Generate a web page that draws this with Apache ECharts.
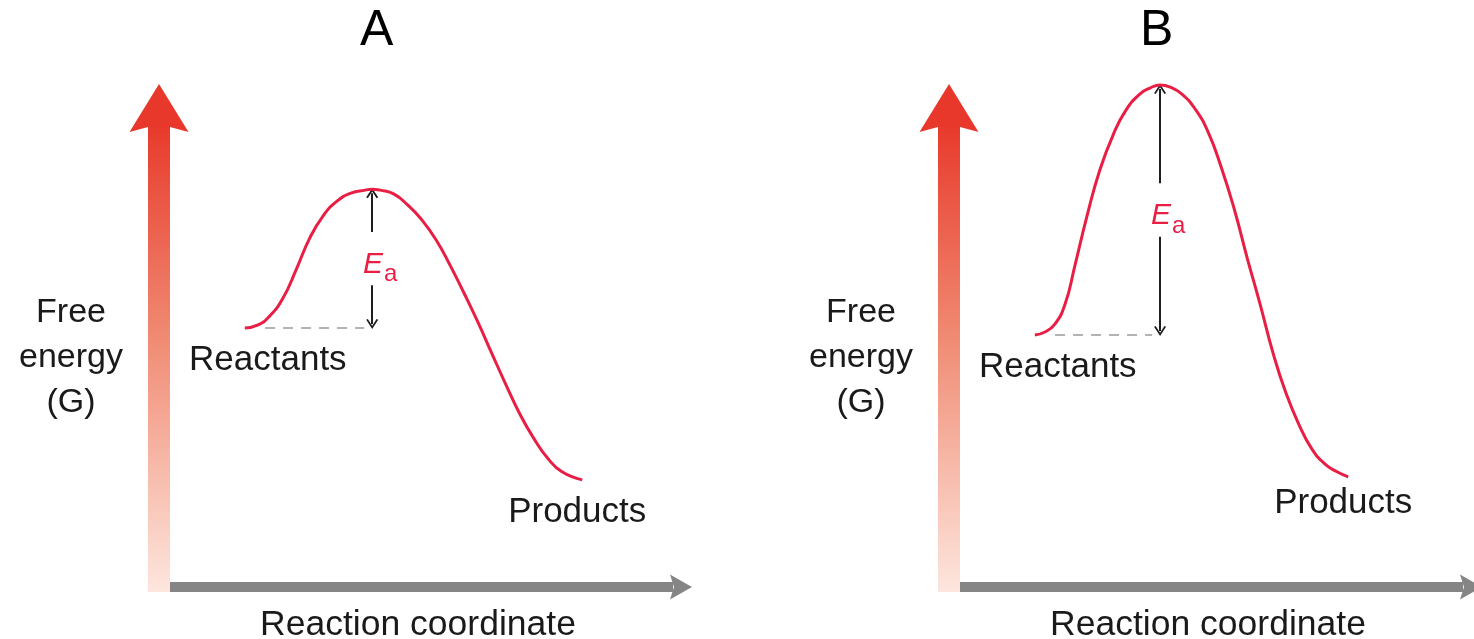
<!DOCTYPE html>
<html><head><meta charset="utf-8">
<script src="https://cdn.jsdelivr.net/npm/echarts@6/dist/echarts.min.js"></script>
<style>html,body{margin:0;padding:0;background:#fff}#c{width:1474px;height:639px}</style>
</head><body><div id="c"></div>
<script>
// ---------------- data ----------------
const panelTitles = ['A', 'B'];
const xAxisName = 'Reaction coordinate';
const yAxisName = '\nFree\nenergy\n(G)';
const stateLabels = ['Reactants', 'Products'];
// Panel A (lower barrier): reaction coordinate vs free energy (0-100 scale)
const coordA = [16.1, 18.6, 20.8, 23.3, 25.7, 28.3, 30.8, 33.4, 36.0, 38.7, 40.0, 41.5, 44.1, 46.7, 49.3, 52.0, 54.6, 57.2, 59.9, 62.5, 65.1, 67.7, 70.4, 73.0, 75.6, 79.4];
const energyA = [51.5, 52.1, 53.9, 57.5, 63.0, 69.4, 73.8, 76.7, 78.3, 78.9, 79.1, 78.9, 78.1, 75.9, 73.0, 69.0, 64.0, 58.5, 52.5, 46.3, 40.2, 34.4, 29.4, 25.5, 22.9, 21.3];
// Panel B (higher barrier)
const coordB = [16.1, 18.0, 19.9, 21.8, 23.6, 25.9, 28.3, 30.8, 33.2, 35.8, 37.7, 39.6, 41.5, 43.7, 46.2, 48.6, 51.0, 53.5, 55.9, 58.4, 60.8, 63.2, 65.7, 68.1, 70.5, 72.8, 74.9];
const energyB = [50.1, 50.7, 52.3, 56.3, 63.8, 73.8, 82.9, 89.9, 94.8, 98.0, 99.2, 99.8, 99.4, 98.0, 95.0, 90.5, 83.7, 75.2, 65.6, 56.1, 46.5, 38.6, 32.2, 27.4, 24.5, 22.9, 21.9];
const axisMin = 0, axisMax = 100;

// ---------------- styles ----------------
const FONT = "'Liberation Sans', Arial, Helvetica, sans-serif";
const TEXT = '#1a1a1a';
const CURVE = '#e81e45';
const grids = [
  { left: 159, top: 84, width: 533, height: 503, outerBoundsMode: 'none', containLabel: false },
  { left: 949, top: 84, width: 533, height: 503, outerBoundsMode: 'none', containLabel: false }
];
const titlePos = [{ left: 360, top: 6 }, { left: 1140, top: 6 }];
const productsOffset = [[-5, 32], [-5, 27]];

const chevron = 'path://M0,9 L6,0 L12,9 L10.4,9.8 L6,3.2 L1.6,9.8 Z';

function renderAxes(params, api) {
  const cs = params.coordSys;
  const L = cs.x, T = cs.y, R = cs.x + cs.width, B = cs.y + cs.height;
  const shaftW = 22, headW = 59, headH = 48, hShaft = 10, hHeadW = 25, hHeadL = 22;
  return {
    type: 'group',
    children: [
      { type: 'rect', shape: { x: L - shaftW / 2, y: T + headH - 6, width: shaftW, height: B + 5 - (T + headH - 6) },
        style: { fill: new echarts.graphic.LinearGradient(0, 0, 0, 1, [
          { offset: 0, color: '#e83a2c' }, { offset: 0.45, color: '#f08a72' }, { offset: 1, color: '#fde6de' }]) } },
      { type: 'polygon', shape: { points: [[L, T], [L + headW / 2, T + headH], [L + shaftW / 2, T + headH - 5], [L - shaftW / 2, T + headH - 5], [L - headW / 2, T + headH]] },
        style: { fill: '#e8372b' } },
      { type: 'rect', shape: { x: L + shaftW / 2, y: B - hShaft / 2, width: R - hHeadL + 3 - (L + shaftW / 2), height: hShaft },
        style: { fill: '#858585' } },
      { type: 'polygon', shape: { points: [[R, B], [R - hHeadL, B - hHeadW / 2], [R - hHeadL + 4, B], [R - hHeadL, B + hHeadW / 2]] },
        style: { fill: '#858585' } }
    ]
  };
}

function buildPanel(i, xs, ys) {
  const pts = xs.map((x, k) => [x, ys[k]]);
  const reactY = ys[0];
  let pk = 0; ys.forEach((v, k) => { if (v > ys[pk]) pk = k; });
  const peakX = xs[pk], peakY = ys[pk];
  const mid = (peakY + reactY) / 2;
  const gap = 5.3, inset = 0.8;
  const last = pts[pts.length - 1];
  return [
    { type: 'custom', xAxisIndex: i, yAxisIndex: i, data: [[0, 0]], renderItem: renderAxes, silent: true, z: 1, clip: false },
    {
      type: 'line', xAxisIndex: i, yAxisIndex: i, data: pts, smooth: 0.5,
      showSymbol: false, symbol: 'none', z: 3,
      lineStyle: { color: CURVE, width: 3 },
      markLine: {
        silent: true, animation: false, z: 2,
        label: { show: false },
        data: [
          [{ coord: [xs[0] + 3.8, reactY], symbol: 'none', lineStyle: { color: '#b3b3b3', width: 2, type: [10, 8] } },
           { coord: [peakX - 1.5, reactY], symbol: 'none' }],
          [{ coord: [peakX, peakY - inset], symbol: chevron, symbolSize: [12, 10], lineStyle: { color: '#1e1e1e', width: 2, type: 'solid' } },
           { coord: [peakX, mid + gap], symbol: 'none' }],
          [{ coord: [peakX, mid - gap], symbol: 'none', lineStyle: { color: '#1e1e1e', width: 2, type: 'solid' } },
           { coord: [peakX, reactY + inset], symbol: chevron, symbolSize: [12, 10] }]
        ]
      },
      markPoint: {
        silent: true, animation: false, symbol: 'circle', symbolSize: 0,
        itemStyle: { color: 'rgba(0,0,0,0)' },
        data: [
          { coord: pts[0], label: { show: true, formatter: stateLabels[0], offset: [23, 32], fontSize: 35, color: TEXT, fontFamily: FONT } },
          { coord: last, label: { show: true, formatter: stateLabels[1], offset: productsOffset[i], fontSize: 35, color: TEXT, fontFamily: FONT } },
          { coord: [peakX, mid], label: {
              show: true, formatter: '{e|E}{s|a}', offset: [8, 6],
              rich: {
                e: { fontSize: 30, lineHeight: 30, fontStyle: 'italic', color: CURVE, fontFamily: FONT, verticalAlign: 'top' },
                s: { fontSize: 24, lineHeight: 24, color: CURVE, fontFamily: FONT, verticalAlign: 'top', padding: [13, 0, 0, 1] }
              } } }
        ]
      }
    }
  ];
}

const option = {
  animation: false,
  backgroundColor: '#fff',
  title: panelTitles.map((t, i) => ({
    text: t, left: titlePos[i].left, top: titlePos[i].top, padding: 0,
    textStyle: { fontSize: 50, fontWeight: 'normal', color: '#000', fontFamily: FONT }
  })),
  grid: grids,
  xAxis: grids.map((g, i) => ({
    gridIndex: i, type: 'value', min: axisMin, max: axisMax,
    axisLine: { show: false }, axisTick: { show: false }, axisLabel: { show: false }, splitLine: { show: false },
    name: xAxisName, nameLocation: 'middle', nameGap: 20,
    nameTextStyle: { fontSize: 35.5, color: TEXT, fontFamily: FONT, padding: [0, 15, 0, 0] }
  })),
  yAxis: grids.map((g, i) => ({
    gridIndex: i, type: 'value', min: axisMin, max: axisMax,
    axisLine: { show: false }, axisTick: { show: false }, axisLabel: { show: false }, splitLine: { show: false },
    name: yAxisName, nameLocation: 'middle', nameRotate: 0, nameGap: 88,
    nameTextStyle: { fontSize: 34, lineHeight: 45, color: TEXT, fontFamily: FONT, align: 'center', verticalAlign: 'middle' }
  })),
  series: [...buildPanel(0, coordA, energyA), ...buildPanel(1, coordB, energyB)]
};

const chart = echarts.init(document.getElementById('c'), null, { renderer: 'canvas' });
chart.setOption(option);
</script>
</body></html>
